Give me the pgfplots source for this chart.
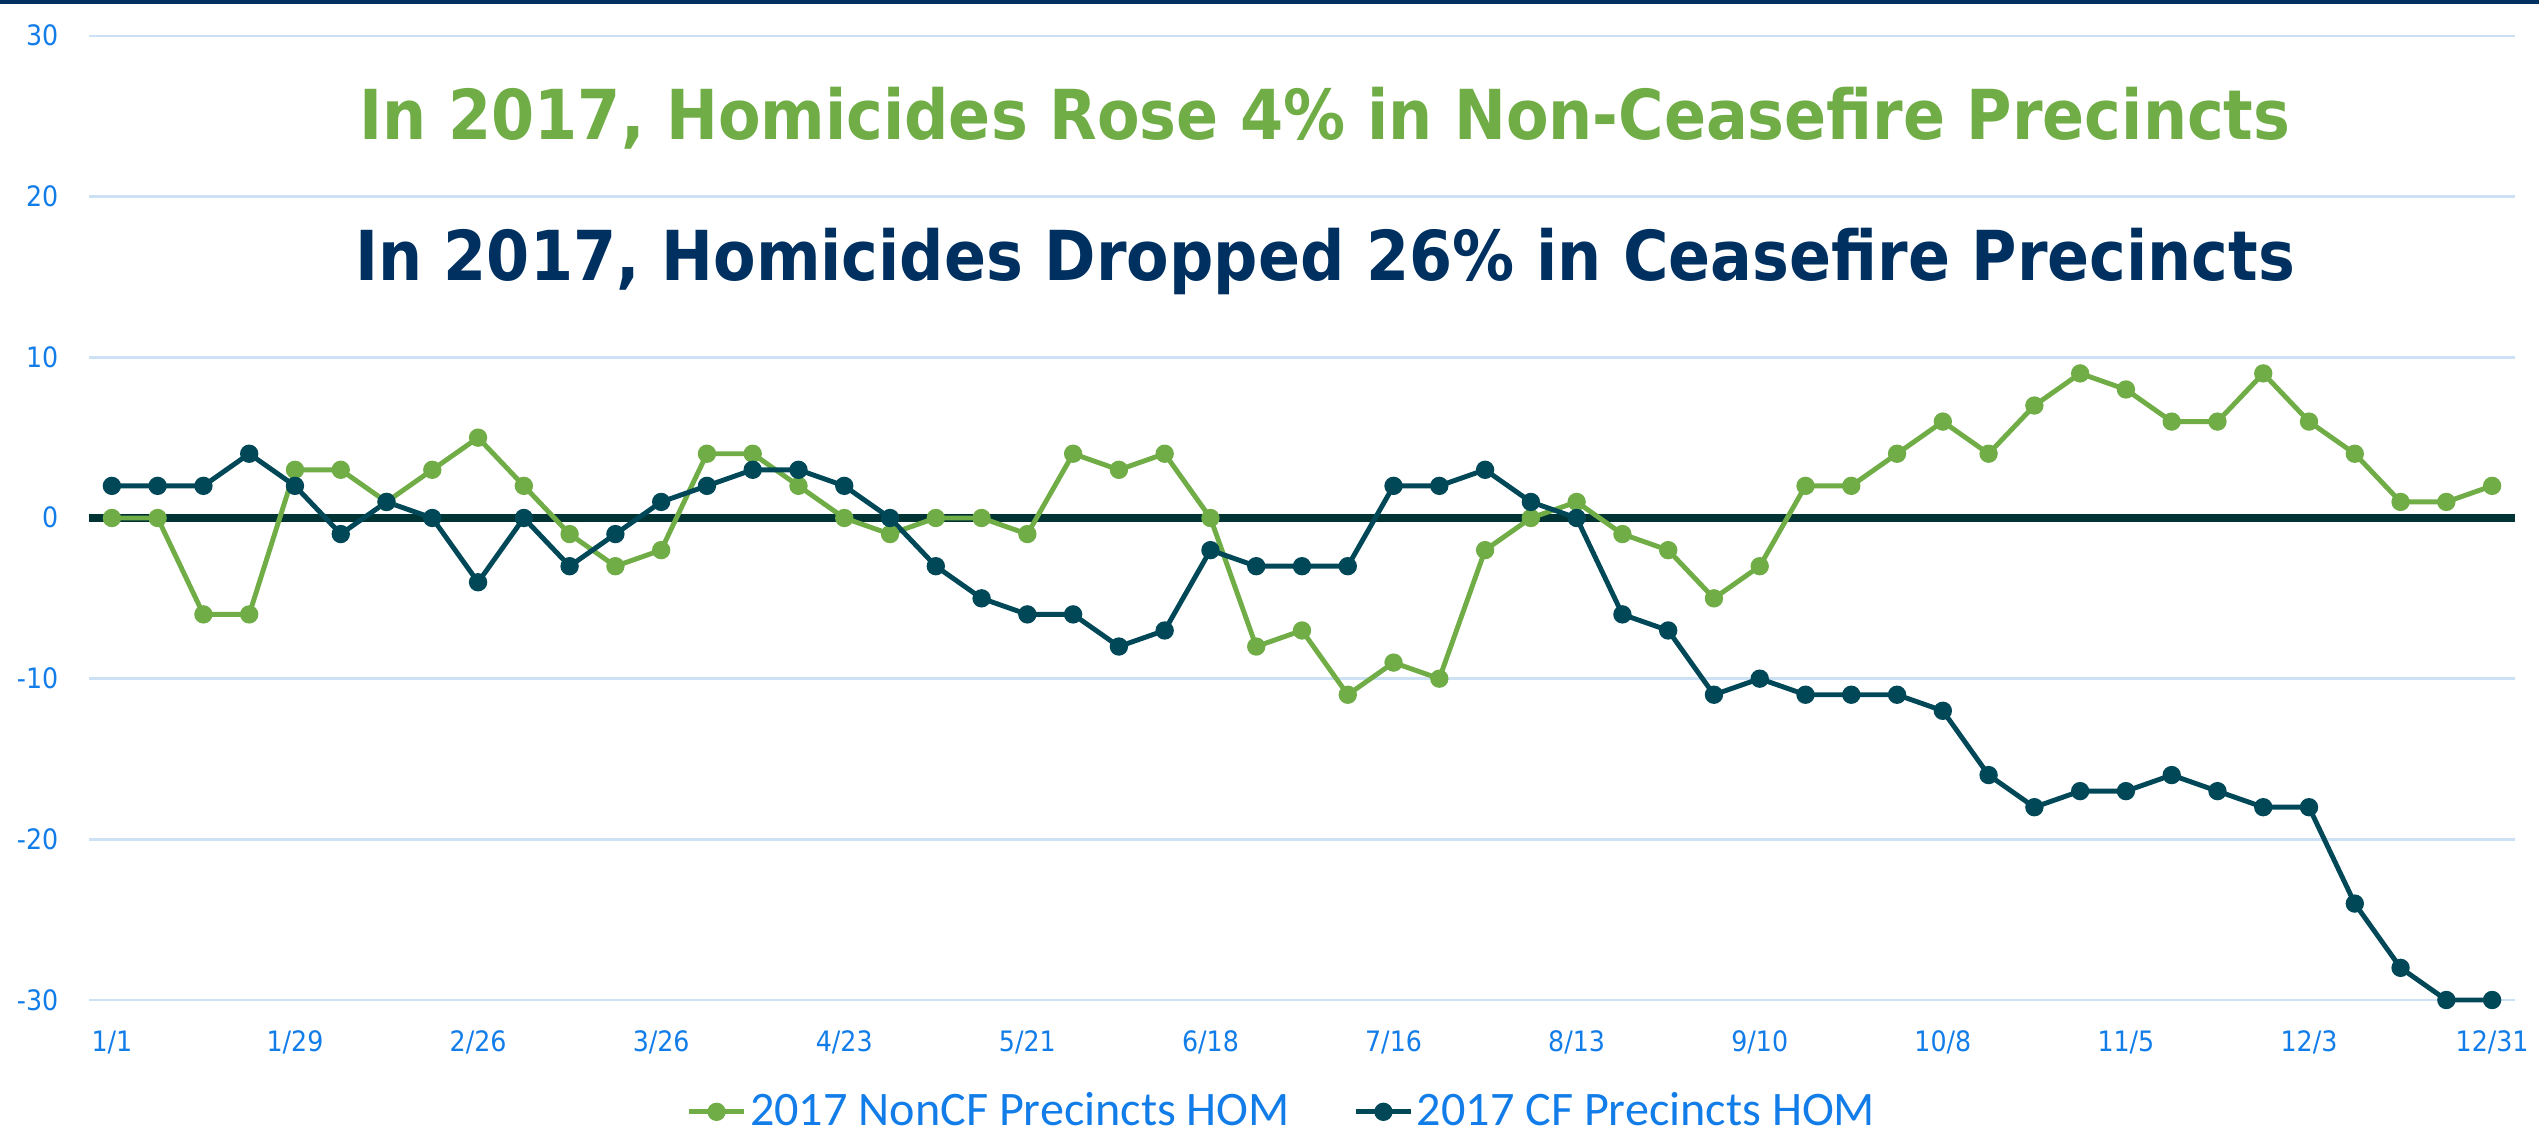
\documentclass[border=0pt]{standalone}
\usepackage{pgfplots}
\pgfplotsset{compat=1.18}
\usepackage{pgfplotstable}
\usepackage{fontspec}
\setmainfont{DejaVu Sans}[FakeStretch=0.9]
\newfontfamily\legfont{Carlito}

\definecolor{ncfgreen}{RGB}{112,173,71}
\definecolor{cfteal}{RGB}{0,72,88}
\definecolor{zeroline}{RGB}{0,51,51}
\definecolor{navy}{RGB}{0,48,96}
\definecolor{tickblue}{RGB}{18,125,232}
\definecolor{gridblue}{RGB}{205,225,245}

% weekly change vs prior year, week 0 = 1/1
\pgfplotstableread{
week noncf cf
0 0 2
1 0 2
2 -6 2
3 -6 4
4 3 2
5 3 -1
6 1 1
7 3 0
8 5 -4
9 2 0
10 -1 -3
11 -3 -1
12 -2 1
13 4 2
14 4 3
15 2 3
16 0 2
17 -1 0
18 0 -3
19 0 -5
20 -1 -6
21 4 -6
22 3 -8
23 4 -7
24 0 -2
25 -8 -3
26 -7 -3
27 -11 -3
28 -9 2
29 -10 2
30 -2 3
31 0 1
32 1 0
33 -1 -6
34 -2 -7
35 -5 -11
36 -3 -10
37 2 -11
38 2 -11
39 4 -11
40 6 -12
41 4 -16
42 7 -18
43 9 -17
44 8 -17
45 6 -16
46 6 -17
47 9 -18
48 6 -18
49 4 -24
50 1 -28
51 1 -30
52 2 -30
}\datatable

\begin{document}
\begin{tikzpicture}
\useasboundingbox (0,0) rectangle (253.9mm,113.4mm);
\fill[navy] (0,113.4mm) rectangle (253.9mm,113.0mm);
\begin{axis}[
    at={(8.9mm,13.4mm)}, anchor=south west,
    scale only axis, width=242.6mm, height=96.4mm,
    xmin=-0.5, xmax=52.5, ymin=-30, ymax=30,
    axis line style={draw=none}, major tick length=0pt,
    ytick={-30,-20,...,30}, yticklabels={-30,-20,-10,0,10,20,30},
    xtick={0,4,...,52},
    xticklabels={1/1,1/29,2/26,3/26,4/23,5/21,6/18,7/16,8/13,9/10,10/8,11/5,12/3,12/31},
    ymajorgrids, grid style={gridblue, line width=0.7pt},
    extra y ticks={0}, extra y tick labels={},
    extra y tick style={grid style={zeroline, line width=2.1pt}},
    ticklabel style={font=\fontsize{8}{9}\selectfont, text=tickblue, inner sep=0pt},
    yticklabel style={anchor=base east, xshift=-3mm, yshift=-1mm},
    xticklabel style={anchor=base, yshift=-5.1mm},
    clip=false,
    legend columns=2,
    legend style={at={(0.492,-0.116)}, anchor=center, draw=none, fill=none,
        font=\legfont\fontsize{13.7}{15}\selectfont, text=tickblue,
        nodes={inner sep=1pt},
        /tikz/every even column/.append style={column sep=6mm}},
    legend image code/.code={\draw[mark repeat=2,mark phase=2,#1]
        plot coordinates {(0mm,0mm) (2.75mm,0mm) (5.5mm,0mm)};},
]
\addplot[ncfgreen, line width=1.4pt, mark=*, mark size=1.9pt] table[x=week,y=noncf]{\datatable};
\addlegendentry{2017 NonCF Precincts HOM}
\addplot[cfteal, line width=1.4pt, mark=*, mark size=1.9pt] table[x=week,y=cf]{\datatable};
\addlegendentry{2017 CF Precincts HOM}

\node[font=\bfseries\fontsize{19.6}{22}\selectfont, text=ncfgreen] at (rel axis cs:0.5095,0.915)
    {In 2017, Homicides Rose 4\% in Non-Ceasefire Precincts};
\node[font=\bfseries\fontsize{19.6}{22}\selectfont, text=navy] at (rel axis cs:0.5095,0.7656)
    {In 2017, Homicides Dropped 26\% in Ceasefire Precincts};
\end{axis}
\end{tikzpicture}
\end{document}
